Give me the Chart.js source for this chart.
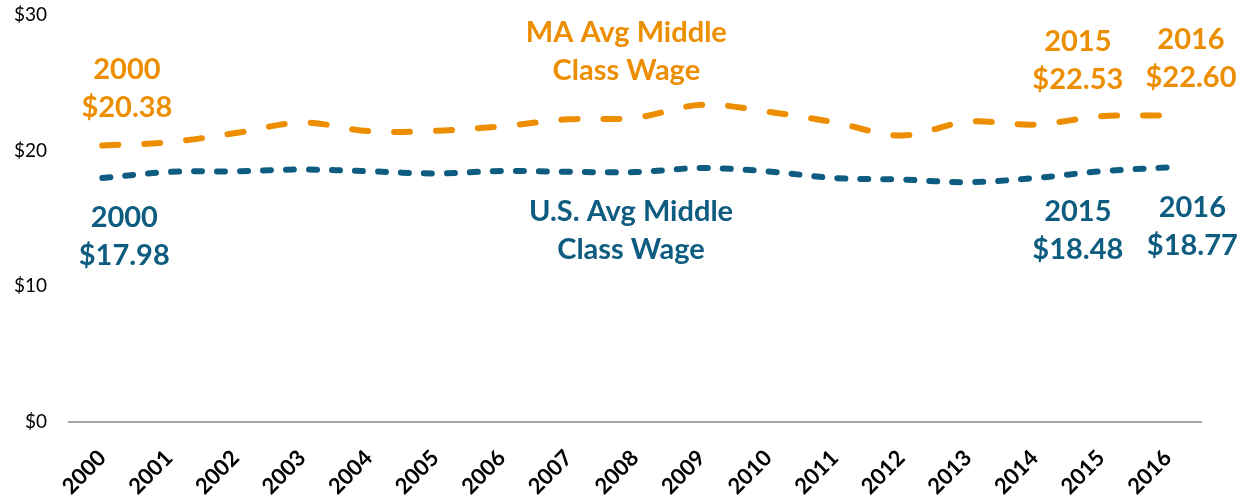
<!DOCTYPE html>
<html lang="en">
<head>
    <meta charset="UTF-8">
    <title>Average Middle Class Wage</title>
    <script src="https://cdn.jsdelivr.net/npm/chart.js"></script>
    <style>
        body {
            margin: 0;
            padding: 0;
            background: #fff;
        }

        .chart-box {
            position: relative;
            width: 1249px;
            height: 497px;
        }
    </style>
</head>
<body>
    <div class="chart-box">
        <canvas id="wageChart"></canvas>
    </div>

    <script>
        // data
        const years = ['2000', '2001', '2002', '2003', '2004', '2005', '2006', '2007', '2008',
                       '2009', '2010', '2011', '2012', '2013', '2014', '2015', '2016'];
        const maWage = [20.38, 20.62, 21.30, 22.07, 21.44, 21.46, 21.80, 22.31, 22.42,
                        23.38, 22.87, 22.08, 21.12, 22.14, 21.92, 22.53, 22.60];
        const usWage = [17.98, 18.43, 18.48, 18.61, 18.48, 18.32, 18.50, 18.44, 18.42,
                        18.72, 18.47, 17.98, 17.87, 17.68, 17.98, 18.48, 18.77];
        const yTicks = [0, 10, 20, 30];

        const orange = '#EC8E00';
        const blue = '#0E5C80';
        const fontName = 'Lato, "Open Sans", sans-serif';

        // callout text, anchored in category / dollar units
        const callouts = [
            { lines: [years[0], '$' + maWage[0].toFixed(2)], x: 0.37, y: 24.54, color: orange },
            { lines: [years[0], '$' + usWage[0].toFixed(2)], x: 0.33, y: 13.63, color: blue },
            { lines: ['MA Avg Middle', 'Class Wage'], x: 7.87, y: 27.3, color: orange },
            { lines: ['U.S. Avg Middle', 'Class Wage'], x: 7.94, y: 14.11, color: blue },
            { lines: [years[15], '$' + maWage[15].toFixed(2)], x: 14.65, y: 26.6, color: orange },
            { lines: [years[16], '$' + maWage[16].toFixed(2)], x: 16.35, y: 26.79, color: orange },
            { lines: [years[15], '$' + usWage[15].toFixed(2)], x: 14.65, y: 14.11, color: blue },
            { lines: [years[16], '$' + usWage[16].toFixed(2)], x: 16.37, y: 14.41, color: blue }
        ];

        const calloutPlugin = {
            id: 'callouts',
            afterDatasetsDraw(chart) {
                const ctx = chart.ctx;
                const xs = chart.scales.x;
                const ys = chart.scales.y;
                const step = xs.getPixelForValue(1) - xs.getPixelForValue(0);
                ctx.save();
                ctx.font = 'bold 29px ' + fontName;
                ctx.textAlign = 'center';
                ctx.textBaseline = 'middle';
                callouts.forEach(c => {
                    const cx = xs.getPixelForValue(0) + c.x * step;
                    const cy = ys.getPixelForValue(c.y);
                    ctx.fillStyle = c.color;
                    ctx.fillText(c.lines[0], cx, cy - 19);
                    ctx.fillText(c.lines[1], cx, cy + 19);
                });
                ctx.restore();
            }
        };

        const wageChart = new Chart(document.getElementById('wageChart').getContext('2d'), {
            type: 'line',
            data: {
                labels: years,
                datasets: [{
                    label: 'MA Avg Middle Class Wage',
                    data: maWage,
                    borderColor: orange,
                    borderWidth: 6,
                    borderDash: [16, 26],
                    borderCapStyle: 'round',
                    pointRadius: 0,
                    tension: 0.35,
                    fill: false
                }, {
                    label: 'U.S. Avg Middle Class Wage',
                    data: usWage,
                    borderColor: blue,
                    borderWidth: 6,
                    borderDash: [8, 15],
                    borderCapStyle: 'round',
                    pointRadius: 0,
                    tension: 0.35,
                    fill: false
                }]
            },
            options: {
                responsive: true,
                maintainAspectRatio: false,
                animation: false,
                layout: {
                    padding: { left: 0, right: 48, top: 15, bottom: 0 }
                },
                plugins: {
                    legend: { display: false },
                    tooltip: { enabled: false }
                },
                scales: {
                    x: {
                        offset: true,
                        grid: { display: false },
                        border: { display: true, color: '#A6A6A6', width: 2 },
                        ticks: {
                            autoSkip: false,
                            minRotation: 45,
                            maxRotation: 45,
                            color: '#000',
                            padding: 15,
                            font: { family: fontName, size: 22, weight: 'bold' }
                        },
                        afterFit(axis) {
                            axis.height = 75;
                        }
                    },
                    y: {
                        min: 0,
                        max: 30,
                        grid: { display: false, tickLength: 0 },
                        border: { display: false },
                        afterBuildTicks(axis) {
                            axis.ticks = yTicks.map(v => ({ value: v }));
                        },
                        ticks: {
                            color: '#000',
                            padding: 22,
                            font: { family: fontName, size: 19 },
                            callback: v => '$' + v
                        },
                        afterFit(axis) {
                            axis.width = 69;
                            axis.paddingTop = 0;
                            axis.paddingBottom = 0;
                        }
                    }
                }
            },
            plugins: [calloutPlugin]
        });
    </script>
</body>
</html>
